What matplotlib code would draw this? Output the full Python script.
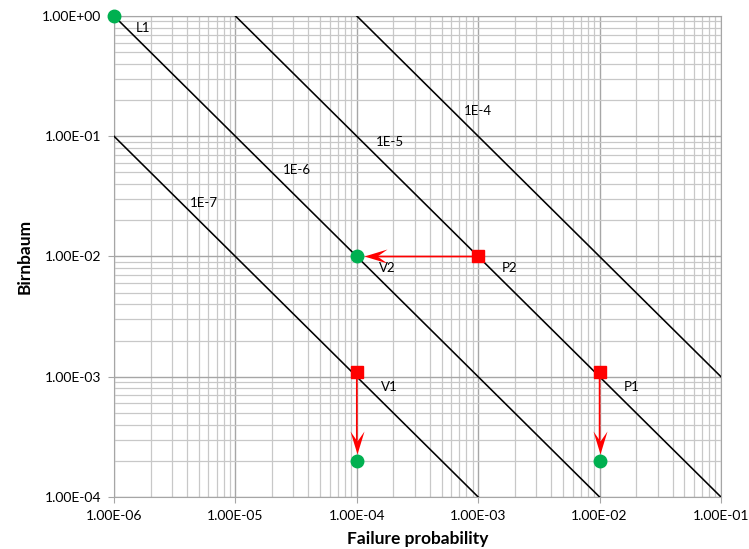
# Birnbaum importance vs failure probability, iso-risk lines on log-log axes
import numpy as np, matplotlib as mpl
mpl.use("Agg"); import matplotlib.pyplot as plt
from matplotlib.ticker import LogLocator, FixedLocator
from matplotlib.path import Path
from matplotlib.transforms import offset_copy

plt.rcParams.update({"font.family": ["Lato", "DejaVu Sans"], "font.size": 10})

# iso-risk products (failure probability x Birnbaum)
RISK = [1e-7, 1e-6, 1e-5, 1e-4]
RISK_LABELS = ["1E-7", "1E-6", "1E-5", "1E-4"]
RISK_LABEL_X = [5.5e-6, 3.2e-5, 1.87e-4, 1.0e-3]
RISK_LABEL_Y = [2.8e-2, 5.2e-2, 9.0e-2, 1.62e-1]

# red = starting state, green = improved state
START_X = [1e-3, 1e-4, 1e-2]
START_Y = [1e-2, 1.1e-3, 1.1e-3]
END_X = [1e-4, 1e-4, 1e-2]
END_Y = [1e-2, 2e-4, 2e-4]
START_NAMES = ["P2", "V1", "P1"]
NAME_X = [1.8e-3, 1.84e-4, 1.85e-2]
NAME_Y = [8.0e-3, 8.2e-4, 8.2e-4]
V2_X, V2_Y = 1.78e-4, 8.0e-3

L1_X, L1_Y = 1e-6, 1.0   # anchor point on top-left corner
XTICKS = [1e-6, 1e-5, 1e-4, 1e-3, 1e-2, 1e-1]
YTICKS = [1e-4, 1e-3, 1e-2, 1e-1, 1e0]

GREEN = "#00B050"; RED = "#FF0000"

# notched ("stealth") arrow head, tip at origin, pointing down
HEAD = Path([(0, 0), (-7, 23), (0, 13), (7, 23), (0, 0)],
            [Path.MOVETO, Path.LINETO, Path.LINETO, Path.LINETO, Path.CLOSEPOLY])
HEAD_MS = 2 * 23 * 72 / 100
TIP_GAP = 7  # px between circle centre and arrow tip

fig = plt.figure(figsize=(7.49, 5.49), dpi=100)
ax = fig.add_axes([0.1522, 0.0947, 0.9626 - 0.1522, 0.9709 - 0.0947])
ax.set_xscale("log"); ax.set_yscale("log")
ax.set_xlim(1e-6, 1e-1); ax.set_ylim(1e-4, 1e0)

xs = np.array([1e-7, 1.0])
for r, lab, lx, ly in zip(RISK, RISK_LABELS, RISK_LABEL_X, RISK_LABEL_Y):
    ax.plot(xs, r / xs, color="black", lw=1.15, zorder=3)
    ax.text(lx, ly, lab, ha="center", va="center", fontsize=9.5, zorder=5)

for sx, sy, ex, ey in zip(START_X, START_Y, END_X, END_Y):
    ax.annotate("", xy=(ex, ey), xytext=(sx, sy), zorder=4,
                arrowprops=dict(arrowstyle="-", color=RED, lw=1.2,
                                shrinkA=0, shrinkB=14))
    if ex == sx:   # vertical move, head points down
        ang, dx, dy = 0, 0, TIP_GAP
    else:          # horizontal move, head points left
        ang, dx, dy = -90, TIP_GAP, 0
    tr = offset_copy(ax.transData, fig=fig, x=dx, y=dy, units="dots")
    head = HEAD.transformed(mpl.transforms.Affine2D().rotate_deg(ang))
    ax.plot([ex], [ey], marker=head, ms=HEAD_MS, color=RED, mew=0,
            transform=tr, zorder=5)

ax.plot(START_X, START_Y, "s", color=RED, ms=9, zorder=6, clip_on=False)
ax.plot(END_X + [L1_X], END_Y + [L1_Y], "o", color=GREEN, ms=9, zorder=6, clip_on=False)

for n, nx, ny in zip(START_NAMES, NAME_X, NAME_Y):
    ax.text(nx, ny, n, ha="center", va="center", fontsize=9.5, zorder=5)
ax.text(V2_X, V2_Y, "V2", ha="center", va="center", fontsize=9.5, zorder=5)
ax.text(1.74e-6, 0.79, "L1", ha="center", va="center", fontsize=9.5, zorder=5)

ax.xaxis.set_major_locator(FixedLocator(XTICKS))
ax.yaxis.set_major_locator(FixedLocator(YTICKS))
ax.xaxis.set_minor_locator(LogLocator(base=10, subs=np.arange(2, 10)))
ax.yaxis.set_minor_locator(LogLocator(base=10, subs=np.arange(2, 10)))
ax.set_xticklabels([f"{v:.2E}" for v in XTICKS])
ax.set_yticklabels([f"{v:.2E}" for v in YTICKS])
ax.tick_params(which="major", length=4, color="#a6a6a6", labelsize=10, pad=5)
ax.tick_params(which="minor", length=0)
ax.grid(which="major", color="#a6a6a6", lw=1.0)
ax.grid(which="minor", color="#c8c8c8", lw=0.9)
ax.set_axisbelow(True)
for s in ax.spines.values():
    s.set_color("#a6a6a6")
ax.set_xlabel("Failure probability", fontsize=12.5, fontweight="bold", labelpad=7)
ax.set_ylabel("Birnbaum", fontsize=12.5, fontweight="bold", labelpad=7)

fig.savefig("out.png", dpi=100)
